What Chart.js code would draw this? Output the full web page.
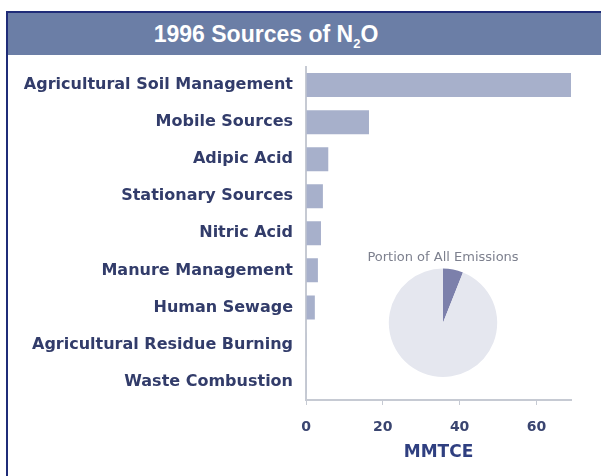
<!DOCTYPE html>
<html>
<head>
<meta charset="utf-8">
<script src="https://cdn.jsdelivr.net/npm/chart.js@4/dist/chart.umd.min.js"></script>
<style>
  body { margin: 0; background: #fff; width: 601px; height: 476px; overflow: hidden; position: relative; }
  #frame { position: absolute; left: 6px; top: 11px; width: 595px; height: 465px; border-left: 2px solid #1f2c78; border-top: 2px solid #1f2c78; }
  #header { position: absolute; left: 8px; top: 13px; width: 593px; height: 42px; background: #6b7ea6; }
  #header span { position: absolute; left: 0; width: 516px; top: 8px; text-align: center; color: #fff;
    font: bold 23px "Liberation Sans", Arial, sans-serif; }
  #header sub { font-size: 13px; }
  #barBox { position: absolute; left: 9px; top: 44px; width: 592px; height: 432px; }
  #pieBox { position: absolute; left: 363px; top: 247px; width: 160px; height: 133px; }
</style>
</head>
<body>
<div id="frame"></div>
<div id="header"><span>1996 Sources of N<sub>2</sub>O</span></div>
<div id="barBox"><canvas id="bars"></canvas></div>
<div id="pieBox"><canvas id="pie"></canvas></div>
<script>
const sources = [
    'Agricultural Soil Management',
    'Mobile Sources',
    'Adipic Acid',
    'Stationary Sources',
    'Nitric Acid',
    'Manure Management',
    'Human Sewage',
    'Agricultural Residue Burning',
    'Waste Combustion'
]
const mmtce = [72, 16.4, 5.8, 4.4, 3.9, 3.1, 2.3, 0.1, 0.1]
const xTicks = [0, 20, 40, 60]
const pieLabels = ['N2O', 'Other Emissions']
const pieShare = [6, 94]

const navy = '#323c6a'

new Chart(document.getElementById('bars'), {
    type: 'bar',
    data: {
        labels: sources,
        datasets: [{
            data: mmtce,
            backgroundColor: '#a7b0cb',
            barPercentage: 0.8,
            categoryPercentage: 0.81
        }]
    },
    options: {
        indexAxis: 'y',
        responsive: true,
        maintainAspectRatio: false,
        animation: false,
        layout: { padding: { top: 0, right: 30, left: 0, bottom: 0 } },
        plugins: { legend: { display: false }, tooltip: { enabled: false } },
        scales: {
            y: {
                grid: { drawOnChartArea: false, drawTicks: false },
                border: { color: '#c6cad3', width: 2 },
                ticks: {
                    padding: 13,
                    color: navy,
                    font: { family: 'DejaVu Sans', weight: 'bold', size: 16 }
                },
                afterFit: (scale) => { scale.width = 297 }
            },
            x: {
                min: 0,
                max: 69,
                afterBuildTicks: (scale) => { scale.ticks = xTicks.map(v => ({ value: v })) },
                grid: { drawOnChartArea: false, drawTicks: true, tickLength: 5, color: '#c6cad3' },
                border: { color: '#c6cad3', width: 2 },
                ticks: {
                    padding: 14,
                    color: '#3a4570',
                    font: { family: 'DejaVu Sans', weight: 'bold', size: 14 }
                },
                title: {
                    display: true,
                    text: 'MMTCE',
                    color: '#2f3f80',
                    padding: { top: 0, bottom: 13 },
                    font: { family: 'DejaVu Sans', weight: 'bold', size: 17 }
                },
                afterFit: (scale) => { scale.height = 76 }
            }
        }
    }
})

new Chart(document.getElementById('pie'), {
    type: 'pie',
    data: {
        labels: pieLabels,
        datasets: [{
            data: pieShare,
            backgroundColor: ['#7c80ab', '#e5e7ef'],
            borderWidth: 0
        }]
    },
    options: {
        responsive: true,
        maintainAspectRatio: false,
        animation: false,
        layout: { padding: 3 },
        plugins: {
            legend: { display: false },
            tooltip: { enabled: false },
            title: {
                display: true,
                text: 'Portion of All Emissions',
                color: '#7d808e',
                padding: { top: 0, bottom: 3 },
                font: { family: 'DejaVu Sans', weight: 'normal', size: 13 }
            }
        }
    }
})
</script>
</body>
</html>
